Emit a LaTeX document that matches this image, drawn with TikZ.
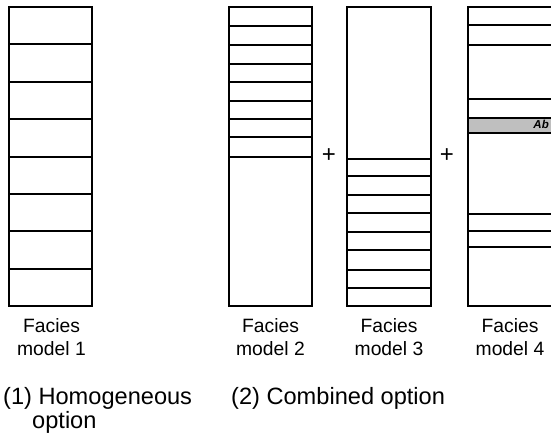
\documentclass[tikz,border=0pt]{standalone}
\usepackage{fontspec}
\setmainfont{Liberation Sans}
\begin{document}
\begin{tikzpicture}[x=1pt,y=-1pt,
  column/.style={draw=black,line width=1.8pt,fill=white},
  layer/.style={draw=black,line width=1.8pt},
  band/.style={draw=black,line width=1.6pt,fill=black!25},
  caption/.style={anchor=base,inner sep=0pt,font=\fontsize{19.3}{22}\selectfont},
  optlabel/.style={anchor=base west,inner sep=0pt,font=\fontsize{23.6}{27}\selectfont},
  plus/.style={inner sep=0pt,font=\fontsize{24}{26}\selectfont}]
\useasboundingbox (0,0) rectangle (551,439);
\clip (0,0) rectangle (551,439);

% Facies model 1: eight equal layers
\draw[column] (9,7) rectangle (92,306);
\foreach \y in {44,82,119,157,194,231,269}
  \draw[layer] (9,\y) -- (92,\y);

% Facies model 2: thin layers at the top
\draw[column] (229,7) rectangle (312,306);
\foreach \y in {26,45,64,82,101,119,137,157}
  \draw[layer] (229,\y) -- (312,\y);

% Facies model 3: thin layers at the base
\draw[column] (347,7) rectangle (431,306);
\foreach \y in {159,176,195,213,232,250,270,288}
  \draw[layer] (347,\y) -- (431,\y);

% Facies model 4: scattered layers and the Ab band
\draw[column] (468,7) rectangle (553,306);
\foreach \y in {25,45,99,214,231,247}
  \draw[layer] (468,\y) -- (553,\y);
\draw[band] (468,118) rectangle (553,133);
\node[anchor=base east,inner sep=0pt,font=\fontsize{11.5}{13}\selectfont\bfseries\itshape]
  (ab) at (549,128.3) {Ab};

% plus signs between the combined columns
\node[plus] (p1) at (329,156) {+};
\node[plus] (p2) at (447,156) {+};

% column captions
\node[caption] (f1) at (51.5,332) {Facies};
\node[caption] (m1) at (51.5,355) {model 1};
\node[caption] (f2) at (270.5,332) {Facies};
\node[caption] (m2) at (270.5,355) {model 2};
\node[caption] (f3) at (389,332) {Facies};
\node[caption] (m3) at (389,355) {model 3};
\node[caption] (f4) at (510,332) {Facies};
\node[caption] (m4) at (510,355) {model 4};

% option labels
\node[optlabel] (o1) at (3,404) {(1) Homogeneous};
\node[optlabel] (o1b) at (32,428) {option};
\node[optlabel] (o2) at (231,404) {(2) Combined option};
\end{tikzpicture}
\end{document}
